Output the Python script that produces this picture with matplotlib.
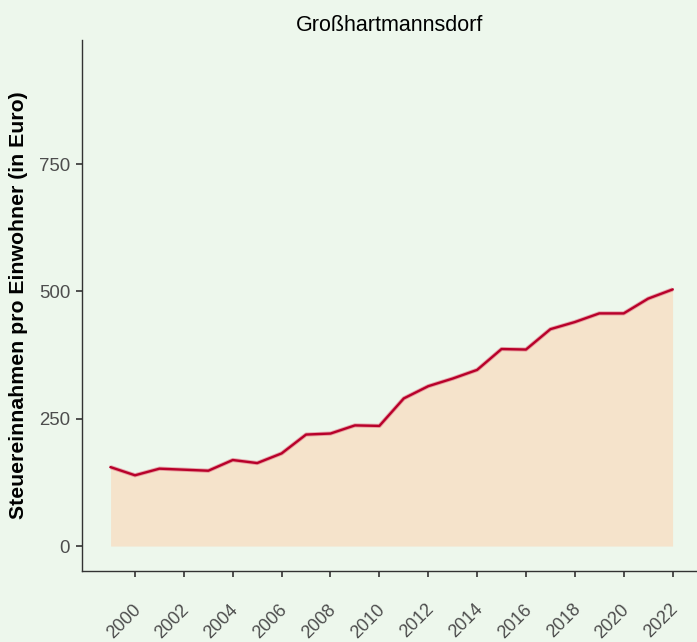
import matplotlib
matplotlib.use("Agg")
import matplotlib.pyplot as plt
from matplotlib.transforms import ScaledTranslation

years = list(range(1999, 2023))
values = [155, 139, 152, 150, 148, 169, 163, 182, 219, 221, 237, 236,
          290, 314, 329, 346, 387, 386, 426, 440, 457, 457, 486, 504]
xticks = list(range(2000, 2023, 2))
yticks = [0, 250, 500, 750]
title = "Großhartmannsdorf"
ylabel = "Steuereinnahmen pro Einwohner (in Euro)"

bg = "#EDF7EC"
plt.rcParams['font.family'] = ['Liberation Sans', 'DejaVu Sans']

fig = plt.figure(figsize=(6.97, 6.42), dpi=100, facecolor=bg)
ax = fig.add_axes([82/697, 1 - 571/642, 1 - 82/697, (571 - 40)/642])
ax.set_facecolor(bg)

ax.fill_between(years, 0, values, color="#F5E3CB", linewidth=0)
ax.plot(years, values, color="#E07080", linewidth=3.0, alpha=0.6, solid_capstyle='butt')
ax.plot(years, values, color="#B8002A", linewidth=1.7)

ax.set_xlim(1997.83, 2023.0)
ax.set_ylim(-49, 994)
ax.set_xticks(xticks)
ax.set_xticklabels([str(x) for x in xticks], rotation=45, ha='right', va='top',
                   rotation_mode='anchor', fontsize=13.0, color="#4D4D4D")
ax.set_yticks(yticks)
ax.set_yticklabels([str(y) for y in yticks], fontsize=13.4, color="#4D4D4D")
ax.tick_params(axis='x', length=4.5, width=1.2, color="#333333", pad=17)
ax.tick_params(axis='y', length=4.5, width=1.2, color="#333333", pad=4)

offset = ScaledTranslation(-3/100, 0, fig.dpi_scale_trans)
for lbl in ax.get_xticklabels():
    lbl.set_transform(lbl.get_transform() + offset)

for s in ['top', 'right']:
    ax.spines[s].set_visible(False)
for s in ['left', 'bottom']:
    ax.spines[s].set_color("#333333")
    ax.spines[s].set_linewidth(1.0)

ax.set_ylabel(ylabel, fontsize=15.3, fontweight='bold', color='black', labelpad=8)
ax.set_title(title, fontsize=15.5, color='black', pad=6.5)

fig.savefig("out.png", dpi=100, facecolor=bg)
